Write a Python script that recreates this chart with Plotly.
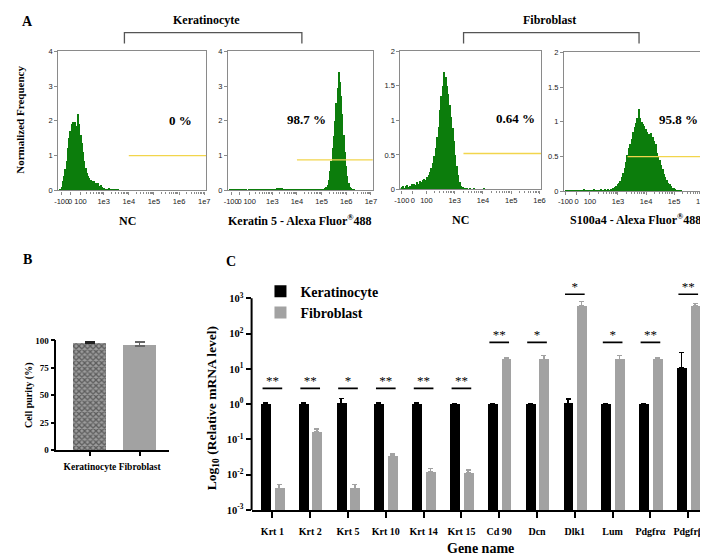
import numpy as np
import plotly.graph_objects as go

# ---------------- DATA ----------------
# Panel A: flow cytometry histograms (bin heights, display-scale bins)
h_step = 0.05
kc_nc_start = 1.30
kc_nc_counts = [0.02, 0.10, 0.25, 0.40, 0.60, 0.85, 1.20, 1.50, 1.70, 1.90,
                1.95, 1.85, 1.95, 1.85, 2.20, 1.90, 1.60, 1.35, 1.10, 0.85,
                0.65, 0.50, 0.40, 0.35, 0.28, 0.25, 0.20, 0.25, 0.22, 0.15,
                0.20, 0.12, 0.14, 0.08, 0.06, 0.07, 0.03, 0.04, 0.02, 0.05,
                0.02, 0.01, 0.03, 0.01, 0.02, 0.00, 0.02]
kc_k5_start = 1.30
kc_k5_counts = [0.01, 0.02, 0.01, 0.01, 0.02, 0.01, 0.00, 0.01, 0.02, 0.01,
                0.01, 0.02, 0.01, 0.01, 0.00, 0.01, 0.02, 0.01, 0.01, 0.01,
                0.02, 0.01, 0.01, 0.02, 0.01, 0.02, 0.01, 0.01, 0.02, 0.01,
                0.02, 0.01, 0.02, 0.02, 0.03, 0.02, 0.03,
                0.04, 0.05, 0.06, 0.05, 0.06, 0.05, 0.04, 0.03, 0.02,
                0.01, 0.02, 0.01, 0.01, 0.02, 0.01, 0.01, 0.02, 0.01, 0.01,
                0.02, 0.01, 0.01, 0.01, 0.02, 0.01, 0.01, 0.02, 0.01, 0.01,
                0.02, 0.01, 0.01, 0.01, 0.02, 0.01, 0.01, 0.02, 0.02, 0.02,
                0.03, 0.05,
                0.08, 0.15, 0.30, 0.55, 0.85, 1.20, 1.55, 2.00, 2.50, 2.95,
                3.40, 3.10, 2.70, 2.20, 1.60, 1.10, 0.70, 0.40, 0.20, 0.10,
                0.05, 0.02, 0.01]
fb_nc_start = 1.10
fb_nc_counts = [0.02, 0.03, 0.05, 0.02, 0.04, 0.06, 0.03, 0.05, 0.07, 0.05,
                0.08, 0.06, 0.10, 0.08, 0.12, 0.10, 0.13, 0.15, 0.14, 0.18,
                0.20, 0.25, 0.30, 0.38, 0.48, 0.60, 0.75, 0.90, 1.15, 1.35,
                1.50, 1.70, 1.62, 1.50, 1.38, 1.22, 1.05, 0.88, 0.70, 0.50,
                0.33, 0.20, 0.10, 0.05, 0.03, 0.02, 0.01, 0.01,
                0.00, 0.01, 0.00, 0.00, 0.01, 0.00, 0.00, 0.00, 0.00, 0.00,
                0.00, 0.02, 0.00]
fb_s100_start = 1.15
fb_s100_counts = [0.02, 0.01, 0.02, 0.01, 0.01, 0.02, 0.01, 0.02, 0.02, 0.01,
                  0.02, 0.01, 0.02, 0.03, 0.02, 0.01, 0.02, 0.02, 0.01, 0.02,
                  0.03, 0.02, 0.02, 0.01, 0.02, 0.03, 0.02, 0.02, 0.03, 0.02,
                  0.03, 0.02, 0.03,
                  0.03, 0.05, 0.06, 0.08, 0.10, 0.12, 0.15, 0.20, 0.26, 0.33,
                  0.42, 0.52, 0.62, 0.68, 0.75, 0.85, 0.92, 0.98, 1.05, 1.18,
                  1.05, 1.00, 0.97, 0.93, 0.90, 0.85, 0.82, 0.80, 0.83, 0.78,
                  0.72, 0.68, 0.55, 0.50, 0.45, 0.38, 0.32, 0.25, 0.20, 0.16,
                  0.12, 0.10, 0.07, 0.05, 0.04, 0.03, 0.02, 0.02, 0.01, 0.01,
                  0.00]

kc_tick_pos = [1.33, 1.67, 2.08, 3, 4, 5, 6, 7]
kc_tick_text = ["-100", "0", "100", "1e3", "1e4", "1e5", "1e6", "1e7"]
fb_tick_pos = [1.13, 1.52, 2.0, 3, 4, 5, 6]
fb_tick_text = ["-100", "0", "100", "1e3", "1e4", "1e5", "1e6"]
kc_range = [1.2, 7.08]
fb_range = [1.08, 6.07]

gate_levels = [1.0, 0.88, 0.52, 0.50]
gate_starts = [4.0, 4.0, 3.31, 3.34]
percent_labels = ["0 %", "98.7 %", "0.64 %", "95.8 %"]
percent_x = [6.06, 4.37, 5.16, 5.15]
percent_y = [2.0, 2.05, 1.02, 1.03]
hist_xlabels = ["NC", "Keratin 5 - Alexa Fluor<sup>®</sup>488", "NC",
                "S100a4 - Alexa Fluor<sup>®</sup>488"]

# Panel B: cell purity
purity_cells = ["Keratinocyte", "Fibroblast"]
purity_mean = [97.0, 95.0]
purity_err = [1.5, 3.5]

# Panel C: relative mRNA level
genes = ["Krt 1", "Krt 2", "Krt 5", "Krt 10", "Krt 14", "Krt 15", "Cd 90",
         "Dcn", "Dlk1", "Lum", "Pdgfrα", "Pdgfrβ"]
kc_expr = [1.0, 1.0, 1.05, 1.0, 1.0, 1.0, 1.0, 1.0, 1.05, 1.0, 1.0, 10.5]
kc_err = [0.1, 0.08, 0.38, 0.1, 0.08, 0.03, 0.05, 0.05, 0.33, 0.05, 0.05, 18.5]
fb_expr = [0.0041, 0.163, 0.0041, 0.034, 0.012, 0.011, 18.6, 18.6, 600,
           18.6, 18.6, 600]
fb_err = [0.0012, 0.035, 0.0012, 0.004, 0.003, 0.0025, 1.4, 5.4, 210,
          5.4, 1.4, 100]
sig_marks = ["**", "**", "*", "**", "**", "**", "**", "*", "*", "*", "**", "**"]
sig_levels = [2.8, 2.8, 2.8, 2.8, 2.8, 2.8, 56, 56, 1300, 56, 56, 1300]
c_tick_vals = [1e-3, 1e-2, 1e-1, 1e0, 1e1, 1e2, 1e3]
c_tick_text = ["10<sup>-3</sup>", "10<sup>-2</sup>", "10<sup>-1</sup>",
               "10<sup>0</sup>", "10<sup>1</sup>", "10<sup>2</sup>",
               "10<sup>3</sup>"]

# ---------------- LAYOUT HELPERS ----------------
W, H = 708, 556


def px(x):
    return x / W


def py(y):
    return 1 - y / H


SERIF = "Liberation Serif"
SANS = "Liberation Sans"
GREEN = "#0c7d0c"
GATE = "#f2d54c"
FGRAY = "#a2a2a2"

fig = go.Figure()

# ---------------- PANEL A ----------------
hist_sets = [
    (kc_nc_start, kc_nc_counts, kc_range),
    (kc_k5_start, kc_k5_counts, kc_range),
    (fb_nc_start, fb_nc_counts, fb_range),
    (fb_s100_start, fb_s100_counts, fb_range),
]
hist_domains_x = [(45, 195), (217, 364), (392, 535), (558, 700)]
hist_domains_y = [(39, 181), (39, 181), (39, 180), (40, 182)]

for i, (start, counts, rng) in enumerate(hist_sets):
    sfx = "" if i == 0 else str(i + 1)
    centers = np.round(start + h_step * np.arange(len(counts)), 3)
    fig.add_trace(go.Bar(x=centers, y=counts, width=h_step,
                         marker=dict(color=GREEN, line=dict(width=0)),
                         showlegend=False, hoverinfo="skip",
                         xaxis="x" + sfx, yaxis="y" + sfx))
    fig.add_trace(go.Scatter(x=[gate_starts[i], rng[1]],
                             y=[gate_levels[i], gate_levels[i]],
                             mode="lines", line=dict(color=GATE, width=1.3),
                             showlegend=False, hoverinfo="skip",
                             xaxis="x" + sfx, yaxis="y" + sfx))

kc_minor = [float(np.log10(k * 10.0 ** e)) for e in range(2, 7) for k in range(2, 10)]
fb_minor = [float(np.log10(k * 10.0 ** e)) for e in range(2, 6) for k in range(2, 10)]

hist_axis_common = dict(showline=True, linecolor="#8a8a8a", linewidth=1.2,
                        mirror=True, ticks="outside", ticklen=3,
                        tickcolor="#8a8a8a", showgrid=False, zeroline=False,
                        tickangle=0,
                        tickfont=dict(family=SANS, size=7.5, color="#222"))

layout_axes = {}
for i in range(4):
    key = "" if i == 0 else str(i + 1)
    x0, x1 = hist_domains_x[i]
    y0, y1 = hist_domains_y[i]
    is_kc = i < 2
    layout_axes["xaxis" + key] = dict(
        hist_axis_common, domain=[px(x0), px(x1)], anchor="y" + key,
        range=kc_range if is_kc else fb_range, tickmode="array",
        tickvals=kc_tick_pos if is_kc else fb_tick_pos,
        ticktext=kc_tick_text if is_kc else fb_tick_text,
        minor=dict(tickmode="array", tickvals=kc_minor if is_kc else fb_minor,
                   ticklen=2, tickcolor="#8a8a8a", ticks="outside"))
    layout_axes["yaxis" + key] = dict(
        hist_axis_common, domain=[py(y1), py(y0)], anchor="x" + key,
        range=[0, 4] if is_kc else [0, 2], dtick=1 if is_kc else 0.5)

# ---------------- PANEL B ----------------
bx = list(range(len(purity_cells)))
fig.add_trace(go.Bar(x=[bx[0]], y=[purity_mean[0]], width=0.67,
                     marker=dict(color="#777777", line=dict(width=0),
                                 pattern=dict(shape="x", fgcolor="#1e1e1e",
                                              bgcolor="#9c9c9c", size=4,
                                              solidity=0.55)),
                     error_y=dict(type="data", symmetric=False,
                                  array=[purity_err[0]], arrayminus=[0],
                                  color="#222", thickness=1.5, width=5),
                     showlegend=False, hoverinfo="skip",
                     xaxis="x5", yaxis="y5"))
fig.add_trace(go.Bar(x=[bx[1]], y=[purity_mean[1]], width=0.67,
                     marker=dict(color=FGRAY, line=dict(width=0)),
                     error_y=dict(type="data", symmetric=False,
                                  array=[purity_err[1]], arrayminus=[0],
                                  color="#666", thickness=1.5, width=5),
                     showlegend=False, hoverinfo="skip",
                     xaxis="x5", yaxis="y5"))

layout_axes["xaxis5"] = dict(domain=[px(43), px(157)], anchor="y5",
                             range=[-0.673, 1.584], tickmode="array",
                             tickvals=bx,
                             ticktext=["<b>%s</b>" % c for c in purity_cells],
                             showline=True, linecolor="black", linewidth=1.5,
                             ticks="outside", ticklen=4, tickwidth=1.5,
                             tickcolor="black", showgrid=False, zeroline=False,
                             ticklabelstandoff=3, tickangle=0,
                             tickfont=dict(family=SERIF, size=9.5, color="black"))
layout_axes["yaxis5"] = dict(domain=[py(446), py(334)], anchor="x5",
                             range=[0, 100], tickmode="array",
                             tickvals=[0, 25, 50, 75, 100],
                             ticktext=["<b>%d</b>" % v for v in [0, 25, 50, 75, 100]],
                             showline=True, linecolor="black", linewidth=1.5,
                             ticks="outside", ticklen=4, tickwidth=1.5,
                             tickcolor="black", showgrid=False, zeroline=False,
                             tickfont=dict(family=SERIF, size=9, color="black"))

# ---------------- PANEL C ----------------
n = len(genes)
cx = list(range(n))
fig.add_trace(go.Bar(x=cx, y=kc_expr, width=0.26, offset=-0.31,
                     name="<b>Keratinocyte</b>",
                     marker=dict(color="black", line=dict(width=0)),
                     error_y=dict(type="data", symmetric=False, array=kc_err,
                                  arrayminus=[0] * n, color="black",
                                  thickness=1.5, width=2.5),
                     hoverinfo="skip", xaxis="x6", yaxis="y6"))
fig.add_trace(go.Bar(x=cx, y=fb_expr, width=0.26, offset=0.05,
                     name="<b>Fibroblast</b>",
                     marker=dict(color=FGRAY, line=dict(width=0)),
                     error_y=dict(type="data", symmetric=False, array=fb_err,
                                  arrayminus=[0] * n, color=FGRAY,
                                  thickness=1.5, width=2.5),
                     hoverinfo="skip", xaxis="x6", yaxis="y6"))

sig_x, sig_y = [], []
for i in cx:
    sig_x += [i - 0.26, i + 0.26, None]
    sig_y += [sig_levels[i], sig_levels[i], None]
fig.add_trace(go.Scatter(x=sig_x, y=sig_y, mode="lines",
                         line=dict(color="black", width=1.6),
                         showlegend=False, hoverinfo="skip",
                         xaxis="x6", yaxis="y6", cliponaxis=False))
fig.add_trace(go.Scatter(x=cx, y=sig_levels, mode="text", text=sig_marks,
                         textposition="top center",
                         textfont=dict(family=SERIF, size=13, color="black"),
                         showlegend=False, hoverinfo="skip",
                         xaxis="x6", yaxis="y6", cliponaxis=False))

layout_axes["xaxis6"] = dict(domain=[px(241), px(705)], anchor="y6",
                             range=[-0.55, 11.55], tickmode="array",
                             tickvals=cx,
                             ticktext=["<b>%s</b>" % g for g in genes],
                             showline=True, linecolor="black", linewidth=2,
                             ticks="outside", ticklen=6, tickwidth=2,
                             tickcolor="black", showgrid=False, zeroline=False,
                             ticklabelstandoff=5, tickangle=0,
                             tickfont=dict(family=SERIF, size=10, color="black"))
layout_axes["yaxis6"] = dict(domain=[py(507), py(285.6)], anchor="x6",
                             type="log", range=[-3, 3.15], tickmode="array",
                             tickvals=c_tick_vals,
                             ticktext=["<b>%s</b>" % t for t in c_tick_text],
                             showline=False, ticks="outside", ticklen=5,
                             tickwidth=2, tickcolor="black", showgrid=False,
                             zeroline=False,
                             tickfont=dict(family=SERIF, size=10.5, color="black"))

# ---------------- SHAPES ----------------
shapes = [
    # y axis line of panel C (10^-3 .. 10^3)
    dict(type="line", xref="x6 domain", yref="y6", x0=0, x1=0,
         y0=1e-3, y1=1e3, line=dict(color="black", width=2)),
    # group brackets in panel A
    dict(type="path", xref="paper", yref="paper",
         path="M %f,%f L %f,%f L %f,%f L %f,%f" % (px(112), py(31), px(112), py(20),
                                                   px(292), py(20), px(292), py(31)),
         line=dict(color="#555", width=1.3)),
    dict(type="path", xref="paper", yref="paper",
         path="M %f,%f L %f,%f L %f,%f L %f,%f" % (px(456), py(31), px(456), py(20),
                                                   px(634), py(20), px(634), py(31)),
         line=dict(color="#555", width=1.3)),
]

# ---------------- ANNOTATIONS ----------------
def ann(text, x, y, size, rot=0, xanchor="center", yanchor="middle", color="black"):
    return dict(text="<b>%s</b>" % text, x=px(x), y=py(y), xref="paper",
                yref="paper", showarrow=False, textangle=rot, xanchor=xanchor,
                yanchor=yanchor, font=dict(family=SERIF, size=size, color=color))


annotations = [
    ann("A", 14, 9, 14),
    ann("B", 14, 251, 14),
    ann("C", 220, 254, 14),
    ann("Keratinocyte", 195, 7, 12),
    ann("Fibroblast", 543, 7, 12),
    ann("Normalized Frequency", 6, 109, 11, rot=-90),
    ann(hist_xlabels[0], 115, 212, 12),
    ann(hist_xlabels[1], 290, 212, 12),
    ann(hist_xlabels[2], 453, 211, 12),
    ann(hist_xlabels[3], 630, 211, 12),
    ann("Cell purity (%)", 16, 390, 10, rot=-90),
    ann("Log<sub>10</sub> (Relative mRNA level)", 201, 403, 13.5, rot=-90),
    ann("Gene name", 473, 546, 14),
]
for i in range(4):
    sfx = "" if i == 0 else str(i + 1)
    annotations.append(dict(text="<b>%s</b>" % percent_labels[i],
                            x=percent_x[i], y=percent_y[i],
                            xref="x" + sfx, yref="y" + sfx, showarrow=False,
                            font=dict(family=SERIF, size=13, color="black")))

fig.update_layout(
    width=W, height=H, margin=dict(l=0, r=0, t=0, b=0),
    paper_bgcolor="white", plot_bgcolor="white",
    barmode="overlay", bargap=0,
    showlegend=True,
    legend=dict(x=px(250), y=py(268), xanchor="left", yanchor="top",
                bgcolor="rgba(0,0,0,0)",
                font=dict(family=SERIF, size=14, color="black")),
    shapes=shapes, annotations=annotations,
    **layout_axes,
)

fig.write_html("out.html")
